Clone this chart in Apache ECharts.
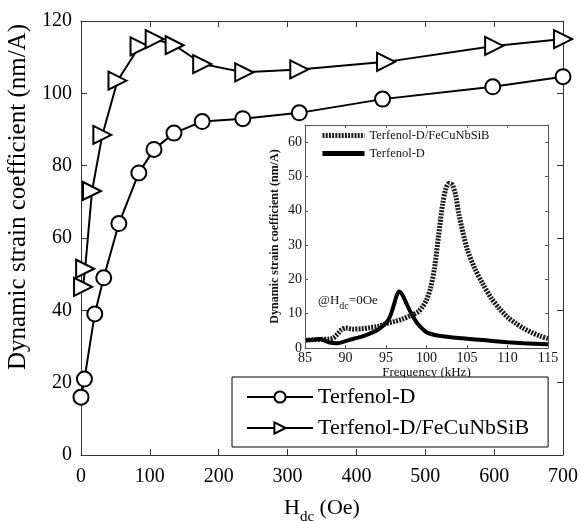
<!DOCTYPE html>
<html>
<head>
<meta charset="utf-8">
<script src="https://cdn.jsdelivr.net/npm/echarts@6/dist/echarts.min.js"></script>
<style>html,body{margin:0;padding:0;background:#fff}#c{width:581px;height:521px}</style>
</head>
<body>
<div id="c"></div>
<script>
// Main chart data
var hdcTerfenol = [0, 5, 20, 33, 55, 84, 106, 135, 176, 235, 317, 438, 598, 700];
var valTerfenol = [16, 21, 39, 49, 64, 78, 84.5, 89, 92.2, 93, 94.6, 98.4, 101.8, 104.6];
var hdcComposite = [3, 6, 16, 31, 53, 85, 107, 136, 176, 237, 317, 443, 600, 700];
var valComposite = [46.5, 51.5, 73, 88.5, 103.5, 113, 115, 113.3, 108.1, 105.8, 106.6, 108.7, 113.1, 115];
var mainXTicks = [0, 100, 200, 300, 400, 500, 600, 700];
var mainYTicks = [0, 20, 40, 60, 80, 100, 120];

// Inset data
var freqComposite = [85,86,87,88,88.5,89,89.5,90,91,92,93,94,95,96,97,98,99,99.5,100,100.5,101,101.5,102,102.4,102.8,103.2,103.6,104,105,106,107,108,109,110,111,112,113,114,115];
var insetComposite = [2.3,2.4,2.5,2.6,2.9,4.0,5.3,5.8,5.5,5.6,5.9,6.3,7.1,7.7,8.4,9.4,10.6,12.0,14.0,17.5,23.5,33,42,46.5,48,47.5,44.5,39,29,23,18.5,14.5,11.5,9.0,7.2,5.7,4.5,3.5,2.7];
var freqTerfenol = [85,86,86.8,87.5,88,89,90,91,92,93,94,95,95.5,96,96.3,96.6,97,97.5,98,98.5,99,100,101,102,103,105,107,110,112,115];
var insetTerfenol = [2.2,2.4,2.6,2.1,1.6,1.4,2.0,2.7,3.3,4.2,5.3,7.3,9.2,12.8,15.2,16.5,15.6,13.1,10.6,8.5,6.8,4.6,3.8,3.4,3.1,2.7,2.3,1.7,1.4,1.1];

var nameT = 'Terfenol-D';
var nameC = 'Terfenol-D/FeCuNbSiB';
var INSET = ' (inset)';

function pairs(xs, ys) { return xs.map(function (x, i) { return [x, ys[i]]; }); }

var FF = "'Liberation Serif', 'Times New Roman', serif";
var axisCol = '#333';
var insetCol = '#555';

function frameAxis(extra) {
  var base = {
    type: 'value',
    splitLine: { show: false },
    axisLine: { show: true, onZero: false, lineStyle: { color: axisCol, width: 1 } },
    axisTick: { show: true, inside: true, length: 6, lineStyle: { color: axisCol } },
    axisLabel: { show: false }
  };
  return Object.assign(base, extra);
}
function insetAxis(extra) {
  return frameAxis(Object.assign({
    z: 8,
    axisTick: { show: true, inside: true, length: 3, lineStyle: { color: insetCol } },
    axisLine: { show: true, onZero: false, lineStyle: { color: insetCol, width: 1 } }
  }, extra));
}

var chart = echarts.init(document.getElementById('c'));
chart.setOption({
  animation: false,
  backgroundColor: '#fff',
  textStyle: { fontFamily: FF },
  grid: [
    { left: 81, top: 21, width: 482, height: 434, containLabel: false, outerBoundsMode: 'none' },
    { left: 305, top: 125, width: 243, height: 223, show: true, backgroundColor: '#fff', borderWidth: 0, z: 5, outerBoundsMode: 'none' }
  ],
  xAxis: [
    frameAxis({
      gridIndex: 0, position: 'bottom', min: 0, max: 700, interval: 100,
      axisLabel: { show: true, fontSize: 20, color: '#000', fontFamily: FF, margin: 12,
        customValues: mainXTicks },
      name: '{h|H}{s|dc}{h| (Oe)}',
      nameLocation: 'middle', nameGap: 42,
      nameTextStyle: {
        rich: {
          h: { fontSize: 22, fontFamily: FF, color: '#000', verticalAlign: 'top', lineHeight: 26 },
          s: { fontSize: 15, fontFamily: FF, color: '#000', verticalAlign: 'top', padding: [13, 0, 0, 0], lineHeight: 15 }
        }
      }
    }),
    frameAxis({ gridIndex: 0, position: 'top', min: 0, max: 700, interval: 100 }),
    insetAxis({
      gridIndex: 1, position: 'bottom', min: 85, max: 115, interval: 5,
      axisLabel: { show: true, fontSize: 14, color: '#111', fontFamily: FF, margin: 3 },
      name: 'Frequency (kHz)', nameLocation: 'middle', nameGap: 16,
      nameTextStyle: { fontSize: 13, color: '#111', fontFamily: FF }
    }),
    insetAxis({ gridIndex: 1, position: 'top', min: 85, max: 115, interval: 5 })
  ],
  yAxis: [
    frameAxis({
      gridIndex: 0, position: 'left', min: 0, max: 120, interval: 20,
      axisLabel: { show: true, fontSize: 20, color: '#000', fontFamily: FF, margin: 9,
        customValues: mainYTicks },
      name: 'Dynamic strain coefficient (nm/A)', nameLocation: 'middle', nameGap: 49,
      nameTextStyle: { fontSize: 25, color: '#000', fontFamily: FF, padding: [0, 0, 0, 82] }
    }),
    frameAxis({ gridIndex: 0, position: 'right', min: 0, max: 120, interval: 20 }),
    insetAxis({
      gridIndex: 1, position: 'left', min: 0, max: 65, interval: 10,
      axisLabel: { show: true, fontSize: 14, color: '#111', fontFamily: FF, margin: 3, showMaxLabel: false },
      name: 'Dynamic strain coefficient (nm/A)', nameLocation: 'middle', nameGap: 24,
      nameTextStyle: { fontSize: 12, fontWeight: 'bold', color: '#111', fontFamily: FF }
    }),
    insetAxis({ gridIndex: 1, position: 'right', min: 0, max: 65, interval: 10 })
  ],
  legend: [
    {
      data: [nameT, nameC],
      orient: 'vertical', left: 232, top: 377,
      padding: [8, 19, 7, 14],
      itemWidth: 66, itemHeight: 14, itemGap: 7,
      borderColor: '#000', borderWidth: 1, backgroundColor: '#fff',
      textStyle: { fontSize: 22, color: '#000', fontFamily: FF, lineHeight: 24 },
      selectedMode: false, z: 10
    },
    {
      data: [nameC + INSET, nameT + INSET],
      orient: 'vertical', left: 320, top: 129,
      padding: 0, itemWidth: 42, itemHeight: 8, itemGap: 5,
      itemStyle: { opacity: 0 },
      lineStyle: { width: 5 },
      formatter: function (n) { return n.replace(INSET, ''); },
      textStyle: { fontSize: 12.5, color: '#111', fontFamily: FF, lineHeight: 12 },
      selectedMode: false, z: 10
    }
  ],
  graphic: [
    {
      type: 'text', left: 318, top: 294, z: 20,
      style: {
        text: '{a|@H}{b|dc}{a|=0Oe}',
        rich: {
          a: { fontSize: 13, fontFamily: FF, fill: '#111', verticalAlign: 'top', lineHeight: 15 },
          b: { fontSize: 10, fontFamily: FF, fill: '#111', verticalAlign: 'top', padding: [7, 0, 0, 0], lineHeight: 10 }
        }
      }
    }
  ],
  series: [
    {
      name: nameT, type: 'line', xAxisIndex: 0, yAxisIndex: 0,
      data: pairs(hdcTerfenol, valTerfenol),
      symbol: 'circle', symbolSize: 15,
      lineStyle: { color: '#000', width: 2 },
      itemStyle: { color: '#fff', borderColor: '#000', borderWidth: 2 },
      z: 3
    },
    {
      name: nameC, type: 'line', xAxisIndex: 0, yAxisIndex: 0,
      data: pairs(hdcComposite, valComposite),
      symbol: 'triangle', symbolSize: 18, symbolRotate: -90,
      lineStyle: { color: '#000', width: 2 },
      itemStyle: { color: '#fff', borderColor: '#000', borderWidth: 2 },
      z: 3
    },
    {
      name: nameC + INSET, type: 'line', xAxisIndex: 2, yAxisIndex: 2,
      data: pairs(freqComposite, insetComposite),
      showSymbol: false, symbol: 'none', smooth: 0.3,
      lineStyle: { color: '#1a1a1a', width: 5, type: [2, 1.2] },
      itemStyle: { color: '#1a1a1a' },
      z: 6
    },
    {
      name: nameT + INSET, type: 'line', xAxisIndex: 2, yAxisIndex: 2,
      data: pairs(freqTerfenol, insetTerfenol),
      showSymbol: false, symbol: 'none', smooth: 0.3,
      lineStyle: { color: '#000', width: 4 },
      itemStyle: { color: '#000' },
      z: 7
    }
  ]
});
</script>
</body>
</html>
